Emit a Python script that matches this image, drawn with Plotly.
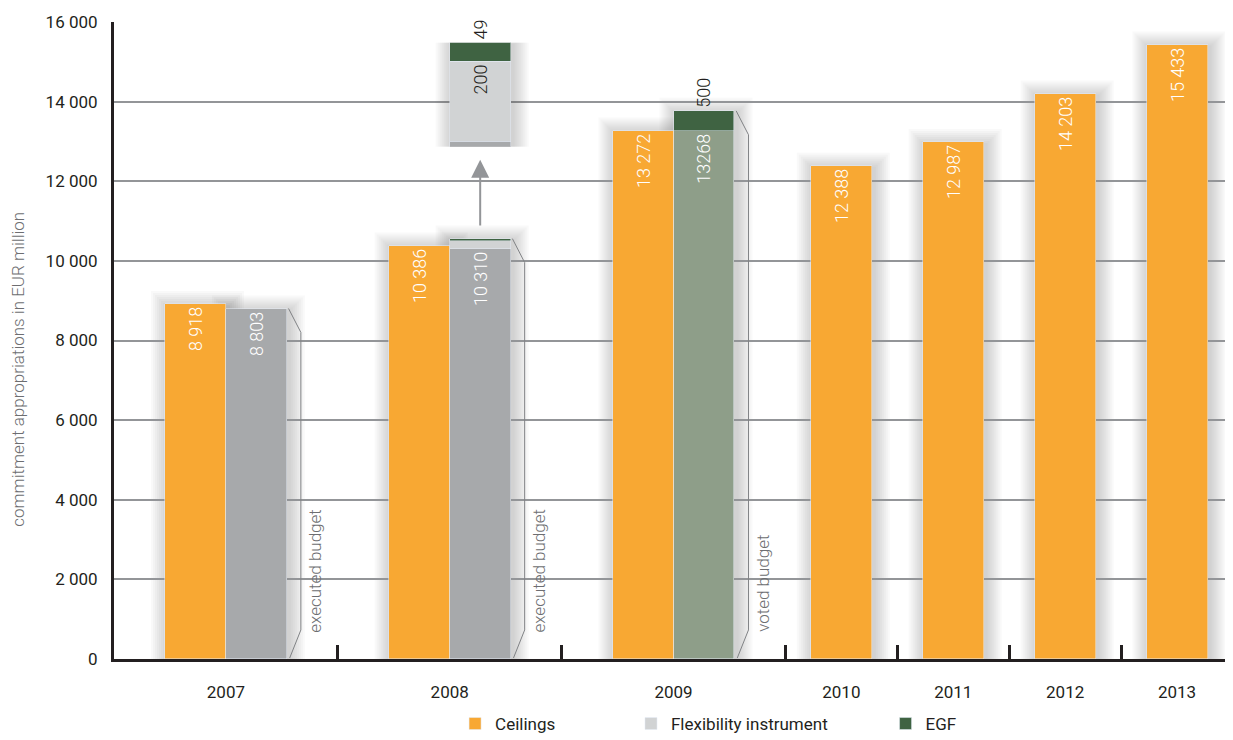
import plotly.graph_objects as go

# ---------------- data ----------------
years = ["2007", "2008", "2009", "2010", "2011", "2012", "2013"]
slot_widths = [2, 2, 2, 1, 1, 1, 1]          # relative width of each year slot on the axis
ceilings = [8918, 10386, 13272, 12388, 12987, 14203, 15433]
ceiling_labels = ["8 918", "10 386", "13 272", "12 388", "12 987", "14 203", "15 433"]

budget_years = ["2007", "2008", "2009"]
budget = [8803, 10310, 13268]
budget_labels = ["8 803", "10 310", "13268"]
budget_notes = ["executed budget", "executed budget", "voted budget"]

flex_years = ["2008"]
flexibility = [200]
egf_years = ["2008", "2009"]
egf = [49, 500]

y_ticks = [0, 2000, 4000, 6000, 8000, 10000, 12000, 14000, 16000]
y_tick_text = ["0", "2 000", "4 000", "6 000", "8 000", "10 000", "12 000", "14 000", "16 000"]

# ---------------- styling ----------------
FONT = "Roboto, Liberation Sans, sans-serif"
ORANGE = "#F8A833"
GRAY = "#A7A9AB"
LIGHT = "#D1D3D4"
GREEN = "#3F6342"
GRAYGREEN = "#8E9E89"
GRID = "#939598"
NOTE = "#6D6E71"
INK = "#231F20"
BAR_W = 0.545
PX_X = 1119 / 10.0        # pixels per x unit (plot width / x range)
PX_Y = 637 / 16000.0      # pixels per y unit
SHADOW = "rgba(80,80,88,0.035)"

# slot geometry (axis units)
bounds = [0]
for w in slot_widths:
    bounds.append(bounds[-1] + w)
centers = {y: (bounds[i] + bounds[i + 1]) / 2 for i, y in enumerate(years)}
paired = set(budget_years)
ceil_x = [centers[y] - BAR_W / 2 if y in paired else centers[y] for y in years]
bud_x = [centers[y] + BAR_W / 2 for y in budget_years]
flex_x = [centers[y] + BAR_W / 2 for y in flex_years]
egf_x = [centers[y] + BAR_W / 2 for y in egf_years]
budget_colors = [GRAY, GRAY, GRAYGREEN]


def stack_top(yr):
    t = budget[budget_years.index(yr)]
    if yr in flex_years:
        t += flexibility[flex_years.index(yr)]
    if yr in egf_years:
        t += egf[egf_years.index(yr)]
    return t


fig = go.Figure()


# soft drop shadows behind each bar (derived from the bar extents)
def add_shadow(x0, x1, y0, y1, xref="x", yref="y", py=PX_Y, bottom_pad=False):
    for k in range(1, 9):
        padx = 2 * k / PX_X
        pady = 2 * k / py
        fig.add_shape(type="rect", xref=xref, yref=yref,
                      x0=x0 - padx + 2 / PX_X, x1=x1 + padx + 2 / PX_X,
                      y0=(y0 - pady - 3 / py) if bottom_pad else y0,
                      y1=y1 + pady - 3 / py,
                      fillcolor=SHADOW, line_width=0, layer="below")


for i, yr in enumerate(years):
    add_shadow(ceil_x[i] - BAR_W / 2, ceil_x[i] + BAR_W / 2, 0, ceilings[i])
for j, yr in enumerate(budget_years):
    add_shadow(bud_x[j] - BAR_W / 2, bud_x[j] + BAR_W / 2, 0, stack_top(yr))

fig.add_trace(go.Bar(
    x=ceil_x, y=ceilings, width=BAR_W, name="Ceilings", marker_color=ORANGE,
    text=ceiling_labels, textposition="inside", insidetextanchor="end", textangle=-90,
    textfont=dict(color="white", size=18, family=FONT, weight=300), constraintext="none",
    legend="legend", hoverinfo="skip"))
fig.add_trace(go.Bar(
    x=bud_x, y=budget, width=BAR_W, name="Budget", marker_color=budget_colors,
    text=budget_labels, textposition="inside", insidetextanchor="end", textangle=-90,
    textfont=dict(color="white", size=18, family=FONT, weight=300), constraintext="none",
    showlegend=False, hoverinfo="skip"))
fig.add_trace(go.Bar(
    x=flex_x, y=flexibility, width=BAR_W, name="Flexibility instrument",
    marker_color=LIGHT, legend="legend2", hoverinfo="skip"))
fig.add_trace(go.Bar(
    x=egf_x, y=egf, width=BAR_W, name="EGF", marker_color=GREEN,
    text=["" if v < 100 else str(v) for v in egf], textposition="outside", textangle=-90,
    textfont=dict(color=INK, size=18, family=FONT, weight=300), cliponaxis=False,
    legend="legend3", hoverinfo="skip"))

# ---------------- magnified inset for 2008 ----------------
i08 = budget_years.index("2008")
e08 = egf[egf_years.index("2008")]
inset_x = [bud_x[i08]]
inset_top = budget[i08] + flexibility[0] + e08
inset_bottom = budget[i08] - 12.5
INSET_DOMAIN = [0.8043, 0.9675]
inset_py = (INSET_DOMAIN[1] - INSET_DOMAIN[0]) * 637 / (inset_top - inset_bottom)

fig.add_trace(go.Bar(x=inset_x, y=[budget[i08]], width=BAR_W, marker_color=GRAY,
                     xaxis="x2", yaxis="y2", showlegend=False, hoverinfo="skip"))
fig.add_trace(go.Bar(x=inset_x, y=flexibility, width=BAR_W, marker_color=LIGHT,
                     text=[str(v) for v in flexibility], textposition="inside",
                     insidetextanchor="end", textangle=-90, constraintext="none",
                     textfont=dict(color=INK, size=18, family=FONT, weight=300),
                     xaxis="x2", yaxis="y2", showlegend=False, hoverinfo="skip"))
fig.add_trace(go.Bar(x=inset_x, y=[e08], width=BAR_W, marker_color=GREEN,
                     text=[str(e08)], textposition="outside",
                     textangle=-90, cliponaxis=False, constraintext="none",
                     textfont=dict(color=INK, size=18, family=FONT, weight=300),
                     xaxis="x2", yaxis="y2", showlegend=False, hoverinfo="skip"))
add_shadow(inset_x[0] - BAR_W / 2, inset_x[0] + BAR_W / 2, inset_bottom, inset_top,
           xref="x2", yref="y2", py=inset_py, bottom_pad=True)

# ---------------- budget brackets + notes ----------------
for yr, val, note in zip(budget_years, budget, budget_notes):
    top = stack_top(yr)
    edge = centers[yr] + BAR_W + 0.015
    xv = centers[yr] + 0.67
    fig.add_trace(go.Scatter(
        x=[edge, xv, xv, edge + 0.01], y=[top, top - 600, 730, 25], mode="lines",
        line=dict(color="#808285", width=1), showlegend=False, hoverinfo="skip"))
    fig.add_annotation(x=centers[yr] + 0.8, y=620, xref="x", yref="y", text=note,
                       textangle=-90, showarrow=False, xanchor="center", yanchor="bottom",
                       font=dict(family=FONT, size=17, color=NOTE, weight=300))

# arrow from the 2008 bar up to the inset
fig.add_annotation(x=bud_x[i08], y=12540, ax=bud_x[i08], ay=10850, xref="x", yref="y",
                   axref="x", ayref="y", text="", showarrow=True, arrowhead=2,
                   arrowsize=1.8, arrowwidth=2, arrowcolor=GRID)

# y-axis title
fig.add_annotation(x=0, y=0.454, xref="paper", yref="paper", xshift=-96,
                   text="commitment appropriations in EUR million", textangle=-90,
                   showarrow=False, xanchor="center", yanchor="middle",
                   font=dict(family=FONT, size=17, color=NOTE, weight=300))

legend_common = dict(orientation="h", yanchor="middle", y=-0.102, xanchor="left",
                     bgcolor="rgba(0,0,0,0)", font=dict(family=FONT, size=17, color=INK))

fig.update_layout(
    width=1225, height=732,
    margin=dict(l=106, r=0, t=14, b=81, autoexpand=False),
    plot_bgcolor="rgba(0,0,0,0)", paper_bgcolor="white",
    barmode="stack", bargap=0,
    font=dict(family=FONT, size=17, color=INK),
    xaxis=dict(range=[bounds[0], bounds[-1]], tickvals=[centers[y] for y in years],
               ticktext=years, ticks="", showgrid=False, zeroline=False,
               showline=True, linecolor=INK, linewidth=3, ticklabelstandoff=16,
               minor=dict(tickmode="array", tickvals=bounds[1:-1], ticks="inside",
                          ticklen=14, tickwidth=3, tickcolor=INK, showgrid=False),
               tickfont=dict(family=FONT, size=17, color=INK), fixedrange=True),
    yaxis=dict(range=[0, 16000], tickvals=y_ticks, ticktext=y_tick_text, ticks="",
               showgrid=True, gridcolor=GRID, gridwidth=2, zeroline=False,
               showline=True, linecolor=INK, linewidth=3, ticklabelstandoff=10,
               tickfont=dict(family=FONT, size=17, color=INK), fixedrange=True),
    xaxis2=dict(domain=[0, 1], range=[bounds[0], bounds[-1]], anchor="y2", visible=False,
                fixedrange=True),
    yaxis2=dict(domain=INSET_DOMAIN, range=[inset_bottom, inset_top], anchor="x2",
                visible=False, fixedrange=True),
    legend=dict(x=0.3048, **legend_common),
    legend2=dict(x=0.4620, **legend_common),
    legend3=dict(x=0.6895, **legend_common),
    showlegend=True,
)

fig.write_html("out.html")
